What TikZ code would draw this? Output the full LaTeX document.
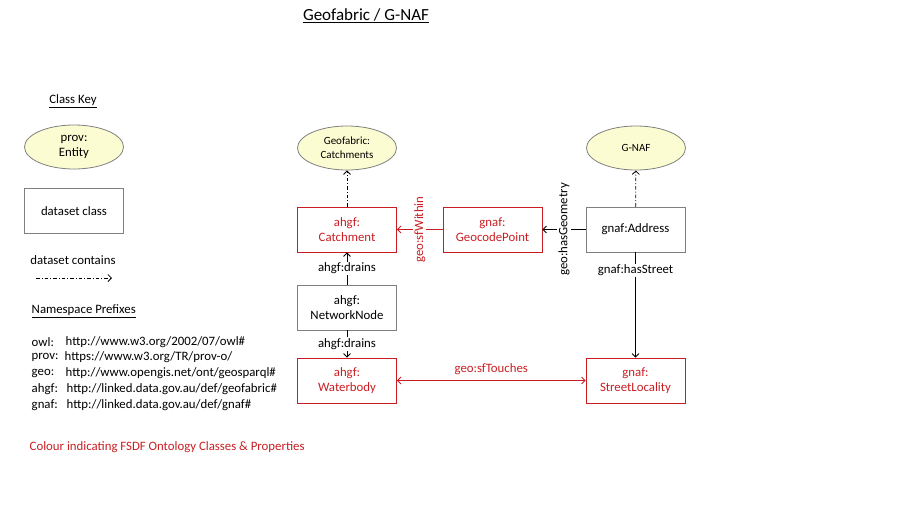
\documentclass[tikz,border=0pt]{standalone}
\usepackage{fontspec}
\setmainfont{Carlito}
\usetikzlibrary{arrows.meta,shapes.geometric}
\definecolor{fsdfred}{RGB}{200,30,35}
\definecolor{keyyellow}{RGB}{252,252,210}
\definecolor{boxgray}{RGB}{128,128,128}

\begin{document}
\begin{tikzpicture}[x=1pt,y=-1pt,line width=0.8pt,
   every node/.style={font=\fontsize{12.8}{15.5}\selectfont},
   dataset/.style={draw=boxgray,minimum width=99pt,minimum height=45pt,align=center},
   fsdf/.style={draw=fsdfred,text=fsdfred,minimum width=99pt,minimum height=45pt,align=center},
   entity/.style={ellipse,draw=boxgray,fill=keyyellow,minimum width=99pt,minimum height=44pt,
     align=center,inner sep=0pt},
   contains/.style={-{Straight Barb[length=3.5pt,width=7pt]},dash pattern=on 3.5pt off 2pt on 1pt off 2pt},
   rel/.style={-{Straight Barb[length=3.5pt,width=7pt]}},
   lbl/.style={fill=white,inner sep=1pt}]

\useasboundingbox (0,0) rectangle (900,506);

% title
\node (title) at (366,16) {\fontsize{17}{20}\selectfont\underline{Geofabric / G-NAF}};

% class key
\node (keytitle) at (73,101) {\underline{Class Key}};
\node[entity] (keyentity) at (74,147) {prov:\\Entity};
\node[dataset] (keyclass) at (74,211) {dataset class};
\node (keycontains) at (73,260) {dataset contains};
\coordinate (keyfrom) at (36,278);
\coordinate (keyto) at (112,278);
\draw[contains] (keyfrom) -- (keyto);

% namespace prefixes
\node[anchor=west] (nstitle) at (28,311) {\underline{Namespace Prefixes}};
\node[anchor=west] (owlpre) at (28,342) {owl:};
\node[anchor=west] (owluri) at (62,342) {http://www.w3.org/2002/07/owl\#};
\node[anchor=west] (provpre) at (28,357) {prov:};
\node[anchor=west] (provuri) at (61,357) {https://www.w3.org/TR/prov-o/};
\node[anchor=west] (geopre) at (28,373) {geo:};
\node[anchor=west] (geouri) at (62,373) {http://www.opengis.net/ont/geosparql\#};
\node[anchor=west] (ahgfpre) at (28,389) {ahgf:};
\node[anchor=west] (ahgfuri) at (63,389) {http://linked.data.gov.au/def/geofabric\#};
\node[anchor=west] (gnafpre) at (28,405) {gnaf:};
\node[anchor=west] (gnafuri) at (63,405) {http://linked.data.gov.au/def/gnaf\#};
\node[anchor=west,text=fsdfred] (colournote) at (26,447) {Colour indicating FSDF Ontology Classes \& Properties};

% datasets
\node[entity,font=\fontsize{11}{14}\selectfont] (gfcatchments) at (347,148) {Geofabric:\\Catchments};
\node[entity,font=\fontsize{11}{14}\selectfont] (gnafset) at (636,148) {G-NAF};

% classes
\node[fsdf] (catchment) at (347,229.5) {ahgf:\\Catchment};
\node[fsdf] (geocode) at (492.5,229.5) {gnaf:\\GeocodePoint};
\node[dataset] (address) at (635.5,229.5) {gnaf:Address};
\node[dataset] (netnode) at (347,307.5) {ahgf:\\NetworkNode};
\node[fsdf] (waterbody) at (347,380.5) {ahgf:\\Waterbody};
\node[fsdf] (streetloc) at (635.5,380.5) {gnaf:\\StreetLocality};

% properties
\draw[contains] (catchment) -- (gfcatchments);
\draw[contains] (address) -- (gnafset);
\draw[rel,fsdfred] (geocode) -- node[lbl,rotate=90,text=fsdfred] {geo:sfWithin} (catchment);
\draw[rel] (address) -- node[lbl,rotate=90] {geo:hasGeometry} (geocode);
\draw[rel] (netnode) -- node[lbl] {ahgf:drains} (catchment);
\draw[rel] (netnode) -- node[lbl] {ahgf:drains} (waterbody);
\draw[rel] (address) -- node[lbl,pos=0.17] {gnaf:hasStreet} (streetloc);
\draw[fsdfred,{Straight Barb[length=3.5pt,width=7pt]}-{Straight Barb[length=3.5pt,width=7pt]}]
   (waterbody) -- node[above=2pt,text=fsdfred] {geo:sfTouches} (streetloc);

\end{tikzpicture}
\end{document}
